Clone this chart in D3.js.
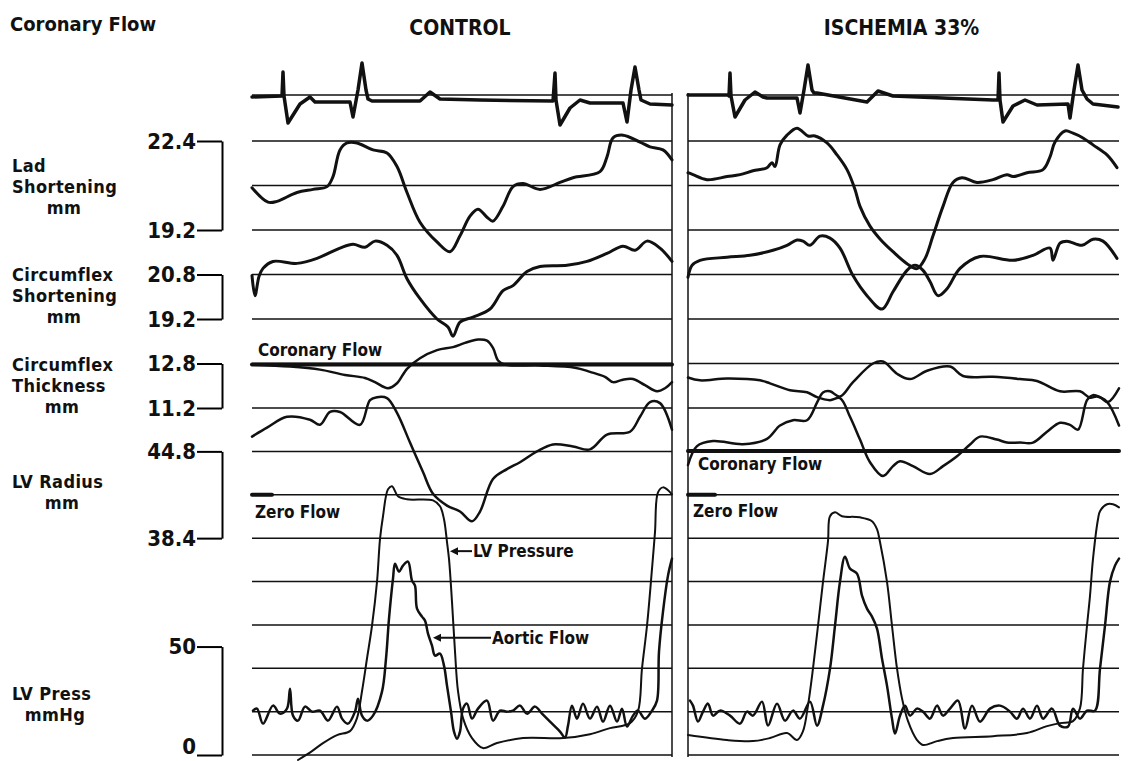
<!DOCTYPE html>
<head>
  <meta charset="utf-8">
  <script src="https://d3js.org/d3.v7.min.js"></script>
  <style>
    body { margin: 0; background: #fff; }
    svg text { font-family: "Liberation Sans Narrow", "DejaVu Sans Condensed", sans-serif; font-weight: bold; fill: #111; }
  </style>
</head>

<body>
  <svg width="1128" height="761"></svg>

  <script>
  // time in ms from the start of each sweep (paper: 1 px = 2 ms)
  // ECG in mV, shortening / thickness / radius in mm, pressure in mmHg,
  // coronary and aortic flow in relative units (0 = zero flow)

  var ecgControl = [[0,0],[60,0.05],[62,1.25],[64,0.05],[72,-1.3],[96,-0.35],[116,0],[126,-0.25],[196,-0.25],[202,-1.0],[212,0.35],[220,1.7],[228,0.35],[232,-0.1],[240,-0.2],[336,-0.2],[356,0.25],[376,-0.1],[456,-0.15],[602,-0.2],[606,1.2],[608,-0.15],[616,-1.4],[636,-0.55],[656,-0.15],[676,-0.3],[742,-0.3],[750,-1.25],[758,0.35],[766,1.5],[774,0.35],[778,-0.15],[796,-0.35],[840,-0.4]];
  var ecgIschemia = [[0,0.1],[80,0.1],[82,0.05],[84,1.2],[86,0.05],[94,-1.0],[114,-0.15],[134,0.25],[150,0],[158,-0.05],[218,-0.05],[224,-0.8],[232,0.35],[240,1.6],[248,0.35],[252,0.2],[258,0.2],[358,-0.25],[380,0.3],[410,0.05],[610,-0.15],[620,-0.15],[622,1.2],[624,-0.15],[630,-1.25],[650,-0.45],[674,-0.15],[698,-0.4],[760,-0.35],[764,-1.05],[772,0.35],[780,1.6],[788,0.35],[798,-0.1],[810,-0.35],[860,-0.5]];

  var ladControl = [[0,20.72],[32,20.20],[50,20.23],[90,20.55],[122,20.66],[150,20.76],[162,21.12],[176,22.08],[190,22.33],[210,22.33],[242,22.08],[270,21.97],[290,21.48],[310,20.55],[336,19.48],[370,18.77],[396,18.42],[416,18.99],[436,19.70],[452,19.95],[470,19.66],[482,19.52],[502,20.05],[522,20.76],[542,20.87],[576,20.66],[616,20.91],[642,21.08],[696,21.30],[710,21.83],[722,22.51],[742,22.61],[776,22.36],[796,22.19],[822,22.08],[840,21.72]];
  var ladIschemia = [[0,21.26],[10,21.19],[38,21.01],[78,21.12],[104,21.19],[130,21.33],[158,21.44],[168,21.62],[174,21.48],[184,22.26],[198,22.61],[218,22.86],[240,22.58],[254,22.58],[278,22.33],[298,21.90],[318,21.37],[334,20.66],[344,20.05],[364,19.34],[384,18.88],[410,18.42],[438,17.99],[458,17.81],[474,18.17],[490,18.99],[510,20.05],[530,20.91],[548,21.08],[578,20.91],[610,21.01],[638,21.19],[650,21.12],[678,21.26],[710,21.37],[724,21.83],[734,22.36],[754,22.76],[770,22.68],[790,22.51],[810,22.26],[838,21.90],[858,21.44]];

  var circControl = [[0,20.76],[6,20.04],[14,20.73],[22,21.02],[42,21.27],[90,21.20],[130,21.38],[176,21.75],[202,21.89],[226,21.78],[246,22.0],[270,21.85],[290,21.49],[310,20.65],[336,19.93],[370,19.2],[392,18.91],[402,18.58],[416,19.09],[442,19.27],[476,19.56],[502,20.22],[522,20.4],[550,20.91],[576,21.09],[630,21.13],[670,21.27],[710,21.56],[742,21.82],[766,21.67],[790,22.0],[816,21.75],[840,21.27]];
  var circIschemia = [[0,20.7],[8,21.13],[24,21.31],[78,21.42],[124,21.49],[170,21.67],[198,21.85],[218,22.04],[230,22.0],[244,21.85],[264,22.18],[284,22.11],[304,21.75],[330,20.76],[358,20.04],[388,19.56],[410,20.18],[438,20.95],[454,21.13],[470,20.95],[484,20.55],[500,20.04],[518,20.29],[544,21.02],[584,21.45],[650,21.31],[690,21.49],[724,21.75],[730,21.31],[744,21.93],[758,22.0],[788,21.85],[810,22.07],[830,22.0],[858,21.38]];

  var thickControl = [[0,12.76],[76,12.69],[136,12.58],[186,12.39],[226,12.28],[246,12.13],[272,11.91],[290,12.09],[310,12.61],[336,12.99],[370,13.28],[402,13.39],[426,13.54],[452,13.66],[470,13.62],[482,13.36],[492,12.91],[506,12.76],[576,12.73],[646,12.65],[676,12.50],[706,12.32],[722,12.13],[740,12.21],[762,12.24],[786,12.02],[810,11.80],[826,11.91],[840,12.13]];
  var thickIschemia = [[0,9.15],[18,9.83],[50,10.01],[110,9.90],[158,10.09],[184,10.57],[210,10.76],[238,10.76],[258,11.39],[270,11.76],[284,11.80],[304,11.61],[330,12.13],[370,12.80],[390,12.87],[418,12.43],[444,12.24],[478,12.54],[524,12.69],[550,12.35],[610,12.32],[664,12.24],[698,12.17],[744,11.80],[784,11.80],[804,11.57],[818,11.61],[838,11.42],[862,10.57]];

  var radiusControl = [[0,45.89],[30,46.55],[70,47.35],[116,47.13],[136,46.76],[156,47.71],[176,47.71],[216,46.76],[236,48.58],[250,48.80],[270,48.73],[290,47.64],[316,45.45],[342,43.27],[362,41.67],[390,40.80],[416,40.36],[440,39.64],[456,40.36],[482,42.76],[510,43.49],[536,44.0],[570,44.8],[602,45.31],[642,45.16],[676,44.95],[710,46.04],[756,46.25],[776,47.35],[796,48.44],[816,48.36],[840,46.4]];
  var radiusIschemia = [[0,50.25],[24,50.04],[78,50.18],[144,50.04],[164,49.82],[204,49.31],[238,49.16],[258,48.80],[284,48.58],[304,48.73],[324,47.35],[344,45.67],[364,44.0],[390,42.98],[410,43.71],[424,44.07],[450,43.71],[484,43.13],[510,43.71],[538,44.44],[564,45.31],[584,45.89],[618,45.67],[638,45.45],[664,45.45],[690,45.45],[718,46.25],[744,46.91],[764,46.76],[780,46.40],[798,48.58],[810,48.95],[824,48.80],[840,48.44],[862,49.45]];

  var lvpControl = [[92,-2.3],[120,1.8],[142,5.5],[170,9.2],[196,11.0],[210,17.0],[220,29.4],[230,44.5],[240,59.6],[250,79.8],[256,99.5],[262,110.1],[272,122.5],[280,123.9],[292,119.3],[310,117.9],[362,117.4],[376,114.7],[384,108.7],[390,98.2],[394,90.4],[400,70.6],[406,47.7],[412,29.4],[422,17.0],[440,7.8],[462,3.2],[490,5.5],[542,7.8],[622,7.8],[676,9.6],[716,12.4],[756,14.7],[772,20.2],[780,39.9],[790,59.6],[800,85.8],[806,102.8],[812,121.1],[822,123.4],[840,120.2]];
  var lvpIschemia = [[0,9.2],[78,6.9],[130,6.4],[164,7.8],[198,10.1],[218,6.9],[230,11.0],[240,22.9],[250,39.9],[260,59.6],[270,79.8],[280,98.6],[284,110.1],[294,111.9],[308,110.1],[344,109.6],[368,107.8],[378,104.1],[384,98.2],[398,79.8],[408,59.6],[418,39.9],[428,26.1],[440,15.6],[458,6.9],[470,4.6],[498,6.4],[530,7.8],[610,8.7],[678,10.1],[718,13.3],[744,14.7],[770,15.6],[784,21.6],[790,39.9],[798,59.6],[804,73.4],[810,90.4],[820,108.7],[824,112.4],[838,115.6],[850,115.6],[862,114.2]];

  var aorticControl = [[2,0.5],[10,1.5],[22,-6],[42,3],[56,-1],[70,1.5],[76,11.5],[82,-2],[92,-4.5],[106,2.5],[120,0],[136,0.5],[152,-4.5],[170,2.5],[180,-3.5],[192,-6],[206,0],[212,6.5],[220,-2],[230,-4.5],[242,-2],[260,10],[268,26.5],[274,46.5],[282,66.5],[286,74],[294,70],[302,73],[312,75],[320,65.5],[326,63],[330,51.5],[340,47.5],[346,45.5],[352,39],[360,33],[366,28],[376,29],[384,23],[390,13],[398,0],[404,-10],[410,-13.5],[416,-10],[422,1.5],[430,4],[440,-3.5],[452,1.5],[470,5.5],[482,-4.5],[496,0.5],[510,0],[522,0.5],[536,3],[550,-1],[566,2.5],[580,-1],[596,-5],[616,-10],[626,-13],[632,-7],[640,3],[650,-3.5],[662,4],[676,-3.5],[690,2.5],[702,-5],[716,3],[730,-5],[740,1.5],[750,-7.5],[762,-2],[772,0.5],[786,-3.5],[800,0.5],[810,5.5],[814,30],[822,50],[832,68],[840,76.5]];
  var aorticIschemia = [[4,5.5],[10,3],[20,-5],[30,0],[40,4],[50,-2],[64,0.5],[84,-2],[104,-6],[118,0],[130,-2],[148,5],[160,-7],[178,4],[194,-4.5],[210,0.5],[224,-3.5],[244,5],[258,-7],[270,3],[284,21.5],[294,43],[304,65],[314,77.5],[324,71.5],[338,69],[348,58],[358,51.5],[368,47.5],[378,41.5],[388,26.5],[398,13],[408,-3.5],[414,-11],[424,-2],[434,3],[444,-2],[458,1.5],[470,0],[484,-3.5],[498,3],[510,-2],[524,1.5],[540,5.5],[554,-8.5],[568,3],[584,-5],[604,1.5],[624,3],[644,0],[658,-3.5],[670,1.5],[684,-3.5],[698,3],[710,-3.5],[728,1.5],[744,-7],[760,-7.5],[770,1.5],[784,-3.5],[798,0.5],[814,0.5],[824,21.5],[834,43],[844,65],[854,73],[862,76.5]];

  var coronaryControl = [[0,2.98],[840,2.98]];
  var coronaryIschemia = [[0,1.0],[862,1.0]];
  var zeroFlowControl = [[0,0],[40,0]];
  var zeroFlowIschemia = [[0,0],[54,0]];

  var svg = d3.select("svg");

  // rows of the chart paper (scan is a bit stretched near the top)
  var row = d3.scaleLinear().domain([0, 1, 7, 15]).range([95, 141, 408, 755]);

  var yEcg = d3.scaleLinear().domain([0, 1]).range([row(0) + 2, row(0) - 18]);
  var yLad = d3.scaleLinear().domain([19.2, 22.4]).range([row(3), row(1)]);
  var yCirc = d3.scaleLinear().domain([19.2, 20.8]).range([row(5), row(4)]);
  var yThick = d3.scaleLinear().domain([11.2, 12.8]).range([row(7), row(6)]);
  var yRadius = d3.scaleLinear().domain([38.4, 44.8]).range([row(10), row(8)]);
  var yPress = d3.scaleLinear().domain([0, 50]).range([row(15), row(12.5)]);
  var yCoronary = d3.scaleLinear().domain([0, 3]).range([row(9), row(6)]);
  var yAortic = d3.scaleLinear().domain([0, 100]).range([row(14), row(14) - 200]);

  var channels = [
    {key: "ecg", y: yEcg, w: 3.5, curve: d3.curveLinear},
    {key: "coronary", y: yCoronary, w: 4, curve: d3.curveLinear},
    {key: "zero", y: yCoronary, w: 4, curve: d3.curveLinear},
    {key: "lad", y: yLad, w: 3},
    {key: "circ", y: yCirc, w: 3},
    {key: "thick", y: yThick, w: 2.5},
    {key: "radius", y: yRadius, w: 2.5},
    {key: "lvp", y: yPress, w: 2},
    {key: "aortic", y: yAortic, w: 2.5}
  ];

  var panels = [
    {title: "CONTROL", x: d3.scaleLinear().domain([0, 840]).range([252, 672]), edge: 840,
     series: {ecg: ecgControl, coronary: coronaryControl, zero: zeroFlowControl, lad: ladControl, circ: circControl,
              thick: thickControl, radius: radiusControl, lvp: lvpControl, aortic: aorticControl},
     notes: [{text: "Coronary Flow", t: 12, v: 2.98, dy: -8}, {text: "Zero Flow", t: 6, v: 0, dy: 23}]},
    {title: "ISCHEMIA 33%", x: d3.scaleLinear().domain([0, 862]).range([688, 1119]), edge: 0,
     series: {ecg: ecgIschemia, coronary: coronaryIschemia, zero: zeroFlowIschemia, lad: ladIschemia, circ: circIschemia,
              thick: thickIschemia, radius: radiusIschemia, lvp: lvpIschemia, aortic: aorticIschemia},
     notes: [{text: "Coronary Flow", t: 20, v: 1, dy: 19}, {text: "Zero Flow", t: 10, v: 0, dy: 22}]}
  ];

  panels.forEach(function(p) {
    var g = svg.append("g");
    var x0 = p.x.range()[0], x1 = p.x.range()[1];

    g.selectAll("line.row")
    .data(d3.range(16))
    .enter().append("line")
    .attr("class", "row")
    .attr("x1", x0).attr("x2", x1)
    .attr("y1", function(d) { return row(d); })
    .attr("y2", function(d) { return row(d); })
    .attr("stroke", "#111")
    .attr("stroke-width", 1.5);

    g.append("line")
    .attr("x1", p.x(p.edge)).attr("x2", p.x(p.edge))
    .attr("y1", row(0) - 2).attr("y2", row(15) + 2)
    .attr("stroke", "#111")
    .attr("stroke-width", 1.5);

    g.append("text")
    .attr("x", (x0 + x1) / 2 - 2)
    .attr("y", 35)
    .attr("text-anchor", "middle")
    .attr("font-size", 21)
    .text(p.title);

    channels.forEach(function(c) {
      var line = d3.line()
      .x(function(d) { return p.x(d[0]); })
      .y(function(d) { return c.y(d[1]); })
      .curve(c.curve || d3.curveCatmullRom.alpha(0.5));

      g.append("path")
      .datum(p.series[c.key])
      .attr("d", line)
      .attr("fill", "none")
      .attr("stroke", "#111")
      .attr("stroke-width", c.w)
      .attr("stroke-linejoin", "round")
      .attr("stroke-linecap", "round");
    });

    p.notes.forEach(function(n) {
      g.append("text")
      .attr("x", p.x(n.t))
      .attr("y", yCoronary(n.v) + n.dy)
      .attr("font-size", 17)
      .text(n.text);
    });
  });

  // arrows pointing at the traces in the control sweep
  var control = panels[0];
  var arrows = [
    {text: "LV Pressure", t: 396, v: 94, y: yPress, len: 22},
    {text: "Aortic Flow", t: 362, v: 37, y: yAortic, len: 58}
  ];
  arrows.forEach(function(a) {
    var tx = control.x(a.t), ty = a.y(a.v);
    svg.append("line")
    .attr("x1", tx + 6).attr("x2", tx + a.len)
    .attr("y1", ty).attr("y2", ty)
    .attr("stroke", "#111").attr("stroke-width", 2);
    svg.append("path")
    .attr("d", "M" + tx + "," + ty + "l8,-4v8z")
    .attr("fill", "#111");
    svg.append("text")
    .attr("x", tx + a.len + 1)
    .attr("y", ty + 6)
    .attr("font-size", 17)
    .text(a.text);
  });

  // bracket scales on the left
  var brackets = [
    {y: yLad, ticks: [22.4, 19.2], fmt: d3.format(".1f")},
    {y: yCirc, ticks: [20.8, 19.2], fmt: d3.format(".1f")},
    {y: yThick, ticks: [12.8, 11.2], fmt: d3.format(".1f")},
    {y: yRadius, ticks: [44.8, 38.4], fmt: d3.format(".1f")},
    {y: yPress, ticks: [50, 0], fmt: d3.format("d")}
  ];
  brackets.forEach(function(b) {
    var ax = svg.append("g")
    .attr("transform", "translate(222,0)")
    .call(d3.axisLeft(b.y).tickValues(b.ticks).tickFormat(b.fmt)
      .tickSize(25).tickSizeOuter(0).tickPadding(1));
    ax.select(".domain").attr("stroke-width", 2);
    ax.selectAll(".tick line").attr("stroke-width", 2);
    ax.selectAll(".tick text").attr("font-size", 22);
  });
  // the 0 mmHg label sits on the bottom edge of the paper
  svg.selectAll(".tick text").filter(function(d) { return d === 0; }).attr("dy", "-0.05em");

  // channel names down the left side
  var labelLayout = [
    {text: "Coronary Flow", x: 10, y: 31, size: 20},
    {text: "Lad", x: 12, y: 172},
    {text: "Shortening", x: 12, y: 193},
    {text: "mm", x: 64, y: 214, anchor: "middle"},
    {text: "Circumflex", x: 12, y: 281},
    {text: "Shortening", x: 12, y: 302},
    {text: "mm", x: 64, y: 323, anchor: "middle"},
    {text: "Circumflex", x: 12, y: 371},
    {text: "Thickness", x: 12, y: 392},
    {text: "mm", x: 62, y: 413, anchor: "middle"},
    {text: "LV Radius", x: 12, y: 488},
    {text: "mm", x: 62, y: 509, anchor: "middle"},
    {text: "LV Press", x: 12, y: 700},
    {text: "mmHg", x: 55, y: 721, anchor: "middle"}
  ];
  svg.append("g")
  .selectAll("text")
  .data(labelLayout)
  .enter().append("text")
  .attr("x", function(d) { return d.x; })
  .attr("y", function(d) { return d.y; })
  .attr("text-anchor", function(d) { return d.anchor || "start"; })
  .attr("font-size", function(d) { return d.size || 18; })
  .attr("letter-spacing", function(d) { return d.size ? 0 : 0.4; })
  .text(function(d) { return d.text; });

  </script>
</body>
